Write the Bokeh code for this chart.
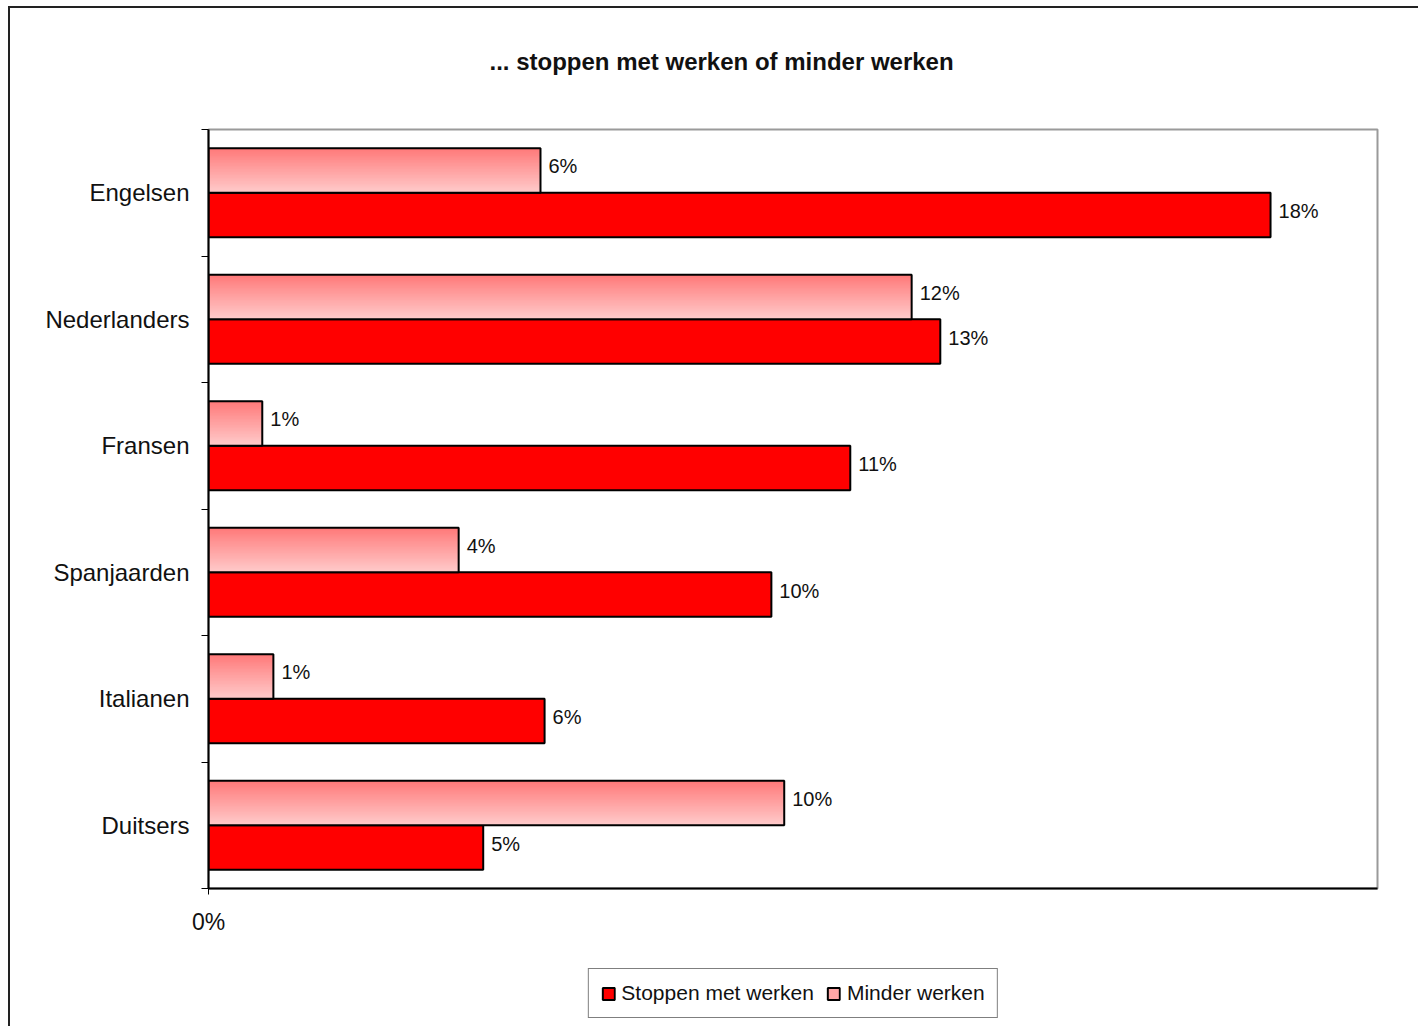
from bokeh.plotting import figure
from bokeh.models import (ColumnDataSource, FixedTicker, Legend, LegendItem, Range1d, Title)
from bokeh.layouts import column
from bokeh.core.properties import value
from bokeh.embed import file_html
from bokeh.resources import INLINE

# ---- data (bottom to top) ----
categories = ["Duitsers", "Italianen", "Spanjaarden", "Fransen", "Nederlanders", "Engelsen"]
stoppen = [4.70, 5.75, 9.63, 10.98, 12.52, 18.17]   # Stoppen met werken (%)
minder = [9.85, 1.11, 4.28, 0.92, 12.03, 5.68]      # Minder werken (%)
series_names = ["Stoppen met werken", "Minder werken"]
title_text = "... stoppen met werken of minder werken"
x_tick_labels = {0: "0%"}

# ---- styling ----
RED = "#FF0000"
PINK_TOP = (255, 122, 122)
PINK_BOTTOM = (255, 202, 202)
PINK_MID = "#FFA6A6"
BAR_H = 0.352
N_STRIPS = 30
LABEL_FONT = "Liberation Sans"
AXIS_FONT = "Liberation Sans"
FRAME_W = 1169

p = figure(frame_width=FRAME_W, frame_height=759, output_backend="svg", toolbar_location=None,
           x_range=Range1d(0, 20), y_range=Range1d(0, len(categories)),
           min_border_left=198, min_border_right=41, min_border_top=121,
           min_border_bottom=72)
p.background_fill_color = "white"
p.border_fill_color = "white"
p.outline_line_color = "#9a9a9a"
p.outline_line_width = 2
p.xgrid.visible = False
p.ygrid.visible = False

# spacer (nearest the frame) + title above it
p.add_layout(Title(text=" ", text_font_size="1px", standoff=52, text_color="white"), "above")
p.add_layout(Title(text=title_text, align="left", offset=281, standoff=0,
                   text_font=AXIS_FONT, text_font_style="bold", text_font_size="24px",
                   text_color="#111111"), "above")

centers = [i + 0.5 for i in range(len(categories))]

# Stoppen bars (solid red), below center
src_s = ColumnDataSource(dict(
    left=[0] * len(stoppen), right=stoppen,
    bottom=[c - BAR_H for c in centers], top=centers,
    label=[f"{v:.0f}%" for v in stoppen],
    ymid=[c - BAR_H / 2 for c in centers]))
p.quad(left="left", right="right", bottom="bottom", top="top", source=src_s,
       fill_color=RED, line_color="black", line_width=2)

# Minder bars: gradient strips (top darker -> bottom lighter), overlapping to avoid seams
sl, sr, sb, st, sc = [], [], [], [], []
for c, v in zip(centers, minder):
    for k in range(N_STRIPS):
        t = k / (N_STRIPS - 1)  # 0 = bottom, 1 = top
        col = tuple(int(round(PINK_BOTTOM[j] + (PINK_TOP[j] - PINK_BOTTOM[j]) * t)) for j in range(3))
        sl.append(0)
        sr.append(v)
        sb.append(c + BAR_H * k / N_STRIPS)
        st.append(min(c + BAR_H * (k + 2) / N_STRIPS, c + BAR_H))
        sc.append("#%02x%02x%02x" % col)
p.quad(left=sl, right=sr, bottom=sb, top=st, fill_color=sc, line_color=None)

src_m = ColumnDataSource(dict(
    left=[0] * len(minder), right=minder,
    bottom=centers, top=[c + BAR_H for c in centers],
    label=[f"{v:.0f}%" for v in minder],
    ymid=[c + BAR_H / 2 for c in centers]))
p.quad(left="left", right="right", bottom="bottom", top="top", source=src_m,
       fill_color=None, line_color="black", line_width=2)

# value labels
for src in (src_s, src_m):
    p.text(x="right", y="ymid", text="label", source=src, x_offset=8, y_offset=-4,
           text_font=value(LABEL_FONT), text_font_size="20px", text_color="#111111",
           text_baseline="middle", text_align="left")

# y axis: category labels at centers, tick marks at boundaries
p.yaxis.ticker = FixedTicker(ticks=centers, minor_ticks=list(range(len(categories) + 1)))
p.yaxis.major_label_overrides = {c: name for c, name in zip(centers, categories)}
p.yaxis.major_tick_line_color = None
p.yaxis.major_tick_out = 0
p.yaxis.major_tick_in = 0
p.yaxis.minor_tick_out = 7
p.yaxis.minor_tick_in = 0
p.yaxis.minor_tick_line_color = "black"
p.yaxis.axis_line_color = "black"
p.yaxis.axis_line_width = 2
p.yaxis.major_label_standoff = 12
p.yaxis.major_label_text_font = AXIS_FONT
p.yaxis.major_label_text_font_size = "24px"
p.yaxis.major_label_text_color = "#111111"

# x axis: only 0%
p.xaxis.ticker = FixedTicker(ticks=[0], minor_ticks=[])
p.xaxis.major_label_overrides = x_tick_labels
p.xaxis.major_tick_out = 6
p.xaxis.major_tick_in = 0
p.xaxis.axis_line_color = "black"
p.xaxis.axis_line_width = 2
p.xaxis.major_label_standoff = 14
p.xaxis.major_label_text_font = AXIS_FONT
p.xaxis.major_label_text_font_size = "23px"
p.xaxis.major_label_text_color = "#111111"

# ---- legend strip below the chart ----
p2 = figure(frame_width=FRAME_W, frame_height=66, output_backend="svg", toolbar_location=None,
            x_range=Range1d(0, 1), y_range=Range1d(0, 1), x_axis_type=None, y_axis_type=None,
            min_border_left=198, min_border_right=41, min_border_top=0, min_border_bottom=0)
p2.outline_line_color = None
p2.xgrid.visible = False
p2.ygrid.visible = False
lr_s = p2.quad(left=[0], right=[0], bottom=[0], top=[0], fill_color=RED,
               line_color="black", line_width=2)
lr_m = p2.quad(left=[0], right=[0], bottom=[0], top=[0], fill_color=PINK_MID,
               line_color="black", line_width=2)
legend = Legend(items=[LegendItem(label=series_names[0], renderers=[lr_s]),
                       LegendItem(label=series_names[1], renderers=[lr_m])],
                orientation="horizontal", location="center",
                label_text_font=LABEL_FONT, label_text_font_size="21px",
                label_text_color="#111111",
                glyph_width=15, glyph_height=15, spacing=12, padding=12,
                label_standoff=6, border_line_color="black", border_line_width=1.5,
                margin=0, background_fill_alpha=1.0)
p2.add_layout(legend, "center")

layout = column(p, p2, spacing=0,
                styles={"border-left": "2px solid #222222", "border-top": "2px solid #222222",
                        "margin-left": "8px", "margin-top": "6px"})

open("out.html", "w").write(file_html(layout, INLINE))
